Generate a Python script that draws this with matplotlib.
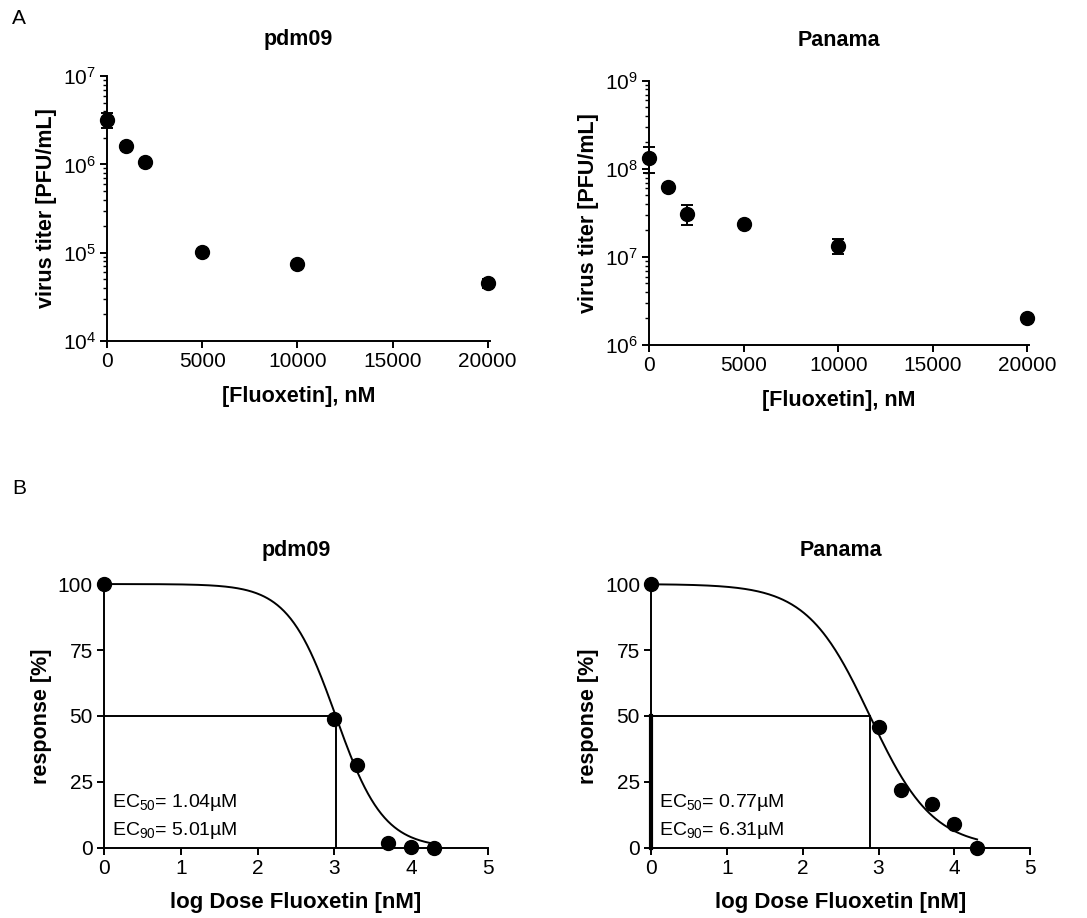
import matplotlib
matplotlib.use('Agg')
import matplotlib.pyplot as plt
import numpy as np

plt.rcParams['font.family'] = ['Liberation Sans', 'DejaVu Sans']
plt.rcParams['mathtext.fontset'] = 'custom'
plt.rcParams['mathtext.rm'] = 'Liberation Sans'
plt.rcParams['mathtext.it'] = 'Liberation Sans'
plt.rcParams['mathtext.bf'] = 'Liberation Sans:bold'

# titer data (panel A)
conc = [0, 1000, 2000, 5000, 10000, 20000]
pdm_titer = [3.2e6, 1.6e6, 1.05e6, 1.03e5, 7.4e4, 4.5e4]
pdm_err = [0.65e6, 0.15e6, 0.05e6, 0.05e5, 0.4e4, 0.5e4]
pan_titer = [1.33e8, 6.3e7, 3.1e7, 2.37e7, 1.33e7, 2.0e6]
pan_err = [0.44e8, 0.4e7, 0.8e7, 0.1e7, 0.25e7, 0.1e6]

# dose response data (panel B)
log_dose = [0, 3, 3.3, 3.7, 4, 4.3]
pdm_resp = [100, 49, 31.3, 2, 0.5, 0]
pan_resp = [100, 46, 22, 16.5, 9, 0]
pdm_ec50, pdm_ec90 = 1.04, 5.01   # uM
pan_ec50, pan_ec90 = 0.77, 6.31

fig = plt.figure(figsize=(10.87, 9.18), dpi=100)


def style(ax):
    for s in ['top', 'right']:
        ax.spines[s].set_visible(False)
    for s in ['left', 'bottom']:
        ax.spines[s].set_linewidth(1.4)
    ax.tick_params(which='major', length=5, width=1.4, labelsize=15, pad=3)
    ax.tick_params(which='minor', length=3, width=1)


def titer_plot(rect, y, err, title, ylim, tpad):
    ax = fig.add_axes(rect)
    ax.errorbar(conc, y, yerr=err, fmt='o', color='black', ms=10,
                capsize=4, elinewidth=1.4, capthick=1.4, clip_on=False, zorder=3)
    ax.set_yscale('log')
    ax.set_ylim(*ylim)
    ax.set_xlim(0, 20100)
    ax.set_xticks([0, 5000, 10000, 15000, 20000])
    style(ax)
    ax.set_title(title, fontsize=15.5, fontweight='bold', pad=tpad)
    ax.set_xlabel('[Fluoxetin], nM', fontsize=15.5, fontweight='bold', labelpad=11)
    ax.set_ylabel('virus titer [PFU/mL]', fontsize=15.5, fontweight='bold', labelpad=4)
    return ax


def dose_plot(rect, resp, ec50, ec90, title, thick_left=False):
    ax = fig.add_axes(rect)
    logec50 = np.log10(ec50 * 1000)
    hill = np.log10(9) / (np.log10(ec90 * 1000) - logec50)
    xs = np.linspace(0, 4.3, 300)
    ax.plot(xs, 100 / (1 + 10 ** ((xs - logec50) * hill)), color='black', lw=1.4, clip_on=False)
    ax.plot(log_dose, resp, 'o', color='black', ms=10, clip_on=False, zorder=3)
    ax.plot([0, logec50], [50, 50], color='black', lw=1.4)
    ax.plot([logec50, logec50], [0, 50], color='black', lw=1.4)
    if thick_left:
        ax.plot([0, 0], [0, 50], color='black', lw=3, clip_on=False)
    ax.set_xlim(0, 5)
    ax.set_ylim(0, 100)
    ax.set_xticks([0, 1, 2, 3, 4, 5])
    ax.set_yticks([0, 25, 50, 75, 100])
    style(ax)
    ax.text(0.1, 17.4, 'EC$_{50}$= %.2fµM' % ec50, fontsize=14, va='center')
    ax.text(0.1, 6.8, 'EC$_{90}$= %.2fµM' % ec90, fontsize=14, va='center')
    ax.set_title(title, fontsize=15.5, fontweight='bold', pad=20)
    ax.set_xlabel('log Dose Fluoxetin [nM]', fontsize=16, fontweight='bold', labelpad=10)
    ax.set_ylabel('response [%]', fontsize=15.5, fontweight='bold', labelpad=4)
    return ax


titer_plot([0.0984, 0.6285, 0.352, 0.2887], pdm_titer, pdm_err, 'pdm09', (1e4, 1e7), 22)
titer_plot([0.597, 0.6242, 0.350, 0.2876], pan_titer, pan_err, 'Panama', (1e6, 1e9), 25.5)
dose_plot([0.0957, 0.0763, 0.3533, 0.2875], pdm_resp, pdm_ec50, pdm_ec90, 'pdm09')
dose_plot([0.599, 0.0763, 0.3487, 0.2875], pan_resp, pan_ec50, pan_ec90, 'Panama', thick_left=True)

fig.text(12 / 1087, 1 - 18 / 918, 'A', fontsize=15, va='center')
fig.text(12 / 1087, 1 - 488 / 918, 'B', fontsize=15, va='center')

fig.savefig('out.png', dpi=100)
